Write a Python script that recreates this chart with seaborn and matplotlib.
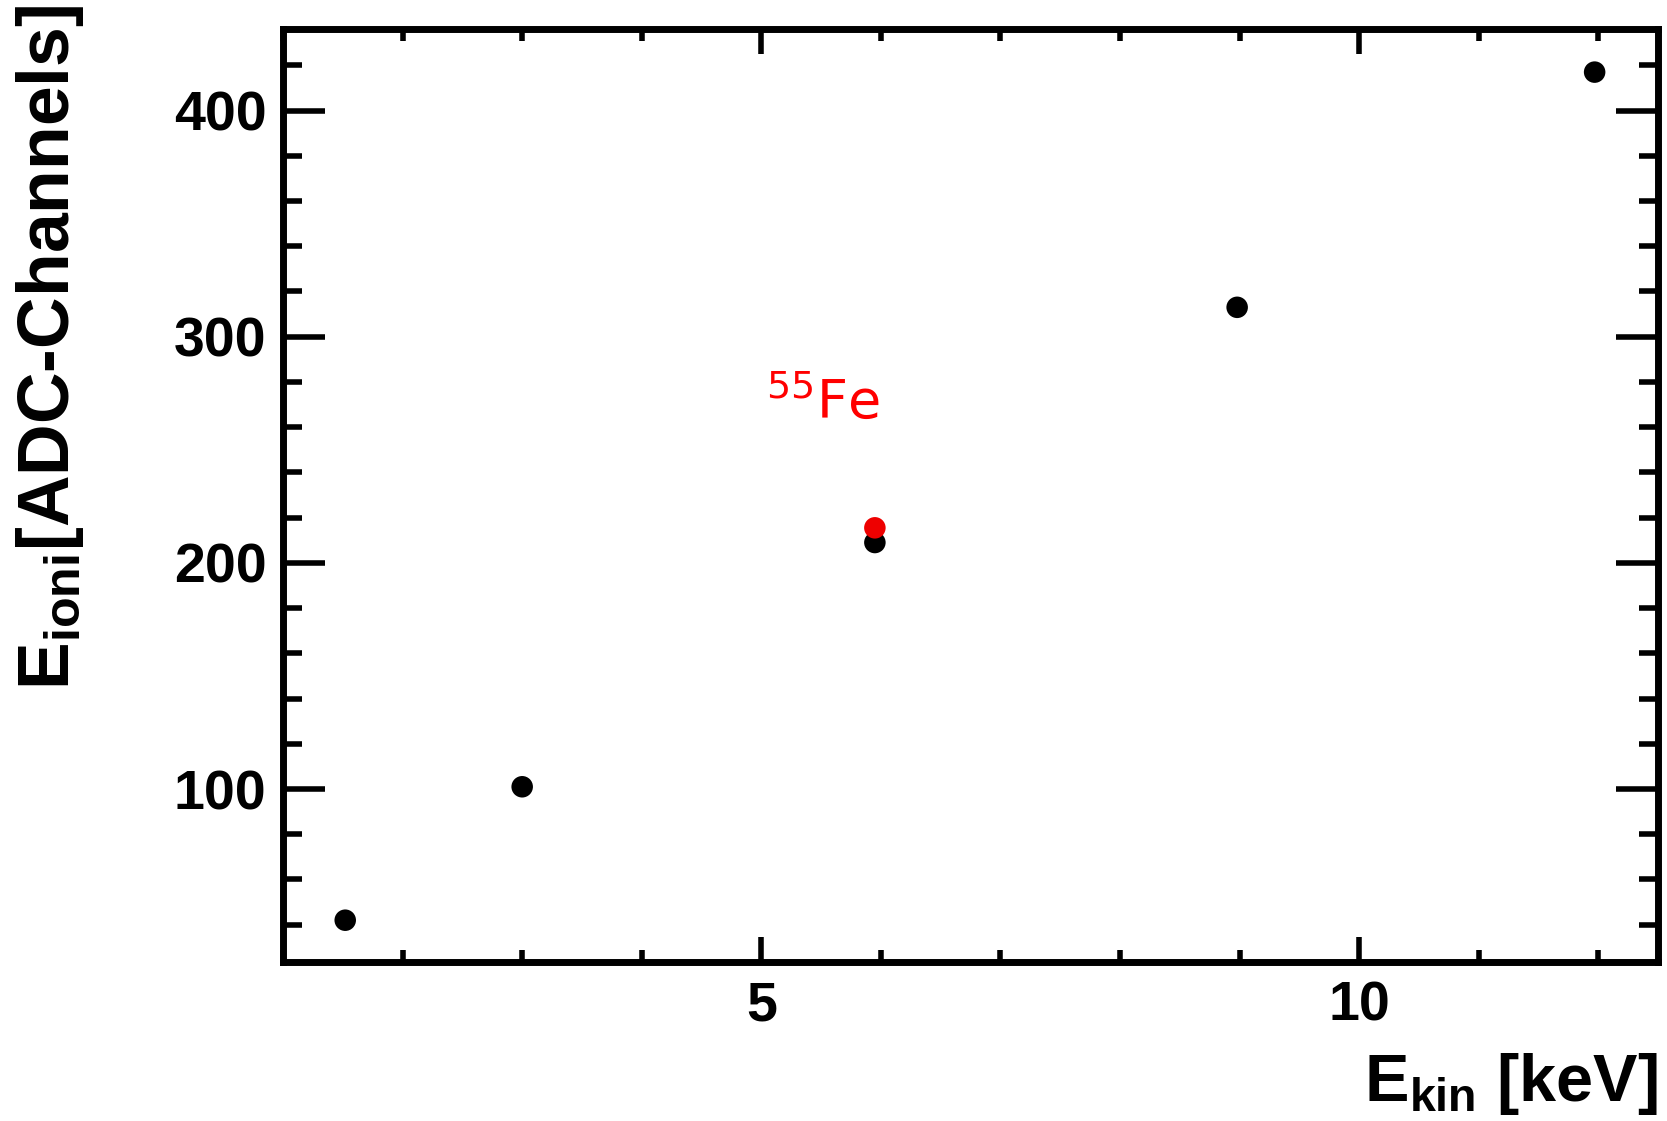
import numpy as np
import pandas as pd
import matplotlib
matplotlib.use("Agg")
import matplotlib.pyplot as plt
from matplotlib.ticker import MultipleLocator
import seaborn as sns

# measured points
e_kin = [1.52, 3.0, 5.95, 8.98, 11.97]
e_ioni = [42, 101, 209, 313, 417]

# Fe-55 calibration point
fe_kin = [5.95]
fe_ioni = [215.5]

sns.set_style("ticks")
plt.rcParams['font.family'] = ['Liberation Sans', 'DejaVu Sans']
plt.rcParams['text.color'] = 'black'
plt.rcParams['axes.labelcolor'] = 'black'
plt.rcParams['axes.edgecolor'] = 'black'
plt.rcParams['xtick.color'] = 'black'
plt.rcParams['ytick.color'] = 'black'
plt.rcParams['mathtext.fontset'] = 'custom'
plt.rcParams['mathtext.rm'] = 'Liberation Sans:bold'
plt.rcParams['mathtext.bf'] = 'Liberation Sans:bold'
plt.rcParams['mathtext.it'] = 'Liberation Sans:bold'

df = pd.DataFrame({"e_kin": e_kin, "e_ioni": e_ioni})
df_fe = pd.DataFrame({"e_kin": fe_kin, "e_ioni": fe_ioni})

fig = plt.figure(figsize=(16.67, 11.21), dpi=100)
ax = fig.add_axes([0.1698, 0.1418, 0.8248, 0.8322])

sns.scatterplot(data=df, x="e_kin", y="e_ioni", color="black", s=240,
                edgecolor="none", ax=ax, zorder=3)
sns.scatterplot(data=df_fe, x="e_kin", y="e_ioni", color="#ee0000", s=240,
                edgecolor="none", ax=ax, zorder=4)

ax.text(5.04, 264, r'$^{\mathrm{55}}$Fe', color="#ff0000", fontsize=39,
        fontweight='normal', family='DejaVu Sans', math_fontfamily='dejavusans',
        ha='left', va='baseline')

ax.set_xlim(1, 12.5)
ax.set_ylim(23.5, 436)

ax.xaxis.set_major_locator(MultipleLocator(5))
ax.xaxis.set_minor_locator(MultipleLocator(1))
ax.yaxis.set_major_locator(MultipleLocator(100))
ax.yaxis.set_minor_locator(MultipleLocator(20))

for sp in ax.spines.values():
    sp.set_visible(True)
    sp.set_linewidth(5)
    sp.set_color('black')

ax.tick_params(axis='both', which='both', direction='in', width=4,
               top=True, right=True, labelsize=40, colors='black')
ax.tick_params(axis='y', which='major', length=30, pad=12)
ax.tick_params(axis='y', which='minor', length=14)
ax.tick_params(axis='x', which='major', length=18, pad=13)
ax.tick_params(axis='x', which='minor', length=8.5)
for lab in ax.get_xticklabels() + ax.get_yticklabels():
    lab.set_fontweight('bold')

ax.set_xlabel(r'$\mathrm{E_{kin}}$ [keV]', fontsize=48, fontweight='bold',
              ha='right', va='top')
ax.xaxis.set_label_coords(1.0, -0.095)
ax.set_ylabel(r'$\mathrm{E_{ioni}}$[ADC-Channels]', fontsize=51.5,
              fontweight='bold', ha='right', va='bottom')
ax.yaxis.set_label_coords(-0.143, 1.026)

fig.savefig("out.png", dpi=100, facecolor="white")
